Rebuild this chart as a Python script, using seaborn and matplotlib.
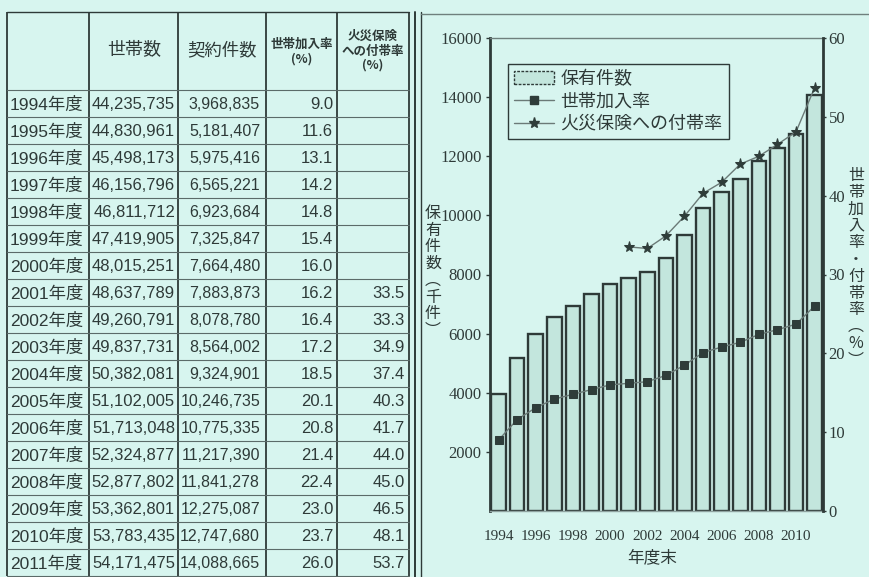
import numpy as np
import pandas as pd
import matplotlib
matplotlib.use("Agg")
import matplotlib.pyplot as plt
import seaborn as sns
from matplotlib.patches import Patch
from matplotlib.lines import Line2D

# ---------------- data ----------------
years = [1994, 1995, 1996, 1997, 1998, 1999, 2000, 2001, 2002,
         2003, 2004, 2005, 2006, 2007, 2008, 2009, 2010, 2011]
households = [44235735, 44830961, 45498173, 46156796, 46811712, 47419905,
              48015251, 48637789, 49260791, 49837731, 50382081, 51102005,
              51713048, 52324877, 52877802, 53362801, 53783435, 54171475]
contracts = [3968835, 5181407, 5975416, 6565221, 6923684, 7325847,
             7664480, 7883873, 8078780, 8564002, 9324901, 10246735,
             10775335, 11217390, 11841278, 12275087, 12747680, 14088665]
kanyu_rate = [9.0, 11.6, 13.1, 14.2, 14.8, 15.4, 16.0, 16.2, 16.4,
              17.2, 18.5, 20.1, 20.8, 21.4, 22.4, 23.0, 23.7, 26.0]
futai_rate = [np.nan] * 7 + [33.5, 33.3, 34.9, 37.4, 40.3, 41.7,
                             44.0, 45.0, 46.5, 48.1, 53.7]
table_headers = ["世帯数", "契約件数", "世帯加入率\n(%)", "火災保険\nへの付帯率\n(%)"]
left_ticks = [2000, 4000, 6000, 8000, 10000, 12000, 14000, 16000]
right_ticks = [0, 10, 20, 30, 40, 50, 60]
legend_labels = ["保有件数", "世帯加入率", "火災保険への付帯率"]
left_ylabel = "保\n有\n件\n数\n︵\n千\n件\n︶"
right_ylabel = "世\n帯\n加\n入\n率\n・\n付\n帯\n率\n︵\n%\n︶"
xlabel = "年度末"

df = pd.DataFrame({
    "year": [str(y) for y in years],
    "pos": np.arange(len(years)),
    "hoyu": [c / 1000 for c in contracts],
    "kanyu": kanyu_rate,
    "futai": futai_rate,
})

# ---------------- style ----------------
BG = "#d7f5ef"
INK = "#2e3a38"
LINE = "#6b7a77"
MARK = "#2f3d3a"
BAR_FILL = "#c3e6dd"
sns.set_style("white", {"axes.facecolor": BG, "figure.facecolor": BG})
plt.rcParams["font.family"] = ["Noto Sans CJK JP", "DejaVu Sans"]
NUMFONT = ["Liberation Sans", "Noto Sans CJK JP"]
TICKFONT = ["Liberation Serif", "DejaVu Serif"]

W, H = 869, 577
fig = plt.figure(figsize=(W / 100, H / 100), dpi=100, facecolor=BG)

# ---------------- table (pixel coordinates) ----------------
tax = fig.add_axes([0, 0, 1, 1])
tax.set_xlim(0, W)
tax.set_ylim(H, 0)
tax.axis("off")
tax.set_facecolor(BG)

col_x = [7, 89, 178, 266, 337, 409]
top_y = 12
head_bottom = 90
row_h = 27
n = len(years)
bottom_y = head_bottom + n * row_h

for x in col_x:
    tax.plot([x, x], [top_y, bottom_y], color=INK, lw=1.3, solid_capstyle="butt")
tax.plot([col_x[0], col_x[-1]], [top_y, top_y], color=INK, lw=1.0)
for i in range(n + 1):
    y = head_bottom + i * row_h
    tax.plot([col_x[0], col_x[-1]], [y, y], color="#5b6b69", lw=0.8)

# separator double line and panel top rule
tax.plot([415, 415], [top_y, H], color=INK, lw=1.4)
tax.plot([421, 421], [top_y, H], color=INK, lw=1.0)
tax.plot([421, W], [14, 14], color="#6f807d", lw=1.0)

# headers
tax.text((col_x[1] + col_x[2]) / 2 + 1, 50, table_headers[0], ha="center", va="center",
         fontsize=13, color=INK)
tax.text((col_x[2] + col_x[3]) / 2, 50, table_headers[1], ha="center", va="center",
         fontsize=12.5, color=INK)
tax.text((col_x[3] + col_x[4]) / 2, 52, table_headers[2], ha="center", va="center",
         fontsize=9, color=INK, linespacing=1.2, fontweight="bold")
tax.text((col_x[4] + col_x[5]) / 2, 51, table_headers[3], ha="center", va="center",
         fontsize=9, color=INK, linespacing=1.15, fontweight="bold")

for i, yv in enumerate(years):
    yc = head_bottom + i * row_h + row_h / 2 + 1
    tax.text(col_x[0] + 3, yc, f"{yv}年度", ha="left", va="center",
             fontsize=12.5, color=INK, family=NUMFONT)
    tax.text(col_x[2] - 3, yc, f"{households[i]:,}", ha="right", va="center",
             fontsize=12, color=INK, family=NUMFONT)
    tax.text(col_x[3] - 6, yc, f"{contracts[i]:,}", ha="right", va="center",
             fontsize=11.5, color=INK, family=NUMFONT)
    tax.text(col_x[4] - 4, yc, f"{kanyu_rate[i]:.1f}", ha="right", va="center",
             fontsize=12, color=INK, family=NUMFONT)
    if not np.isnan(futai_rate[i]):
        tax.text(col_x[5] - 4, yc, f"{futai_rate[i]:.1f}", ha="right", va="center",
                 fontsize=12, color=INK, family=NUMFONT)

# ---------------- chart ----------------
ax_l, ax_r, ax_t, ax_b = 490, 823, 38, 511
ax = fig.add_axes([ax_l / W, 1 - ax_b / H, (ax_r - ax_l) / W, (ax_b - ax_t) / H])
ax.set_facecolor(BG)
sns.barplot(data=df, x="year", y="hoyu", color=BAR_FILL, edgecolor=INK,
            linewidth=1.7, width=0.78, saturation=1, ax=ax)
ax.set_ylim(0, 16000)
ax.set_xlim(-0.46, len(years) - 0.55)
ax.set_yticks(left_ticks)
ax.set_yticklabels([str(v) for v in left_ticks], family=TICKFONT, fontsize=12, color=INK)
ax.set_xticks(df["pos"][::2])
ax.set_xticklabels(df["year"][::2], family=TICKFONT, fontsize=11, color=INK)
ax.tick_params(axis="y", length=3, width=1, pad=3, color=INK)
ax.tick_params(axis="x", length=0, pad=14)
ax.set_xlabel("")
ax.set_ylabel("")
ax.spines["left"].set_linewidth(2.0)
ax.spines["left"].set_color(INK)
ax.spines["top"].set_color("#6f807d")
ax.spines["top"].set_linewidth(1.0)
ax.spines["bottom"].set_color("#8fa3a0")
ax.spines["bottom"].set_linewidth(1.0)
ax.spines["right"].set_visible(False)

ax2 = ax.twinx()
sns.lineplot(data=df, x="pos", y="kanyu", ax=ax2, color=LINE, lw=1.0,
             marker="s", markersize=5.5, markerfacecolor=MARK,
             markeredgecolor=MARK)
sns.lineplot(data=df.dropna(), x="pos", y="futai", ax=ax2, color=LINE, lw=1.0,
             marker="*", markersize=8, markerfacecolor=MARK,
             markeredgecolor=MARK)
ax2.set_ylim(0, 60)
ax2.set_yticks(right_ticks)
ax2.set_yticklabels([str(v) for v in right_ticks], family=TICKFONT, fontsize=12, color=INK)
ax2.tick_params(axis="y", length=2, width=1, pad=2, color=INK)
ax2.set_ylabel("")
ax2.set_xlabel("")
ax2.spines["right"].set_linewidth(2.0)
ax2.spines["right"].set_color(INK)
for s in ["top", "bottom", "left"]:
    ax2.spines[s].set_visible(False)

handles = [
    Patch(facecolor=BAR_FILL, edgecolor=INK, linewidth=1.0, linestyle=(0, (2, 1))),
    Line2D([], [], color=LINE, lw=1.0, marker="s", markersize=5.5,
           markerfacecolor=MARK, markeredgecolor=MARK),
    Line2D([], [], color=LINE, lw=1.0, marker="*", markersize=8,
           markerfacecolor=MARK, markeredgecolor=MARK),
]
leg = ax2.legend(handles, legend_labels, loc="upper left",
                 bbox_to_anchor=(0.054, 0.946), fontsize=13, frameon=True,
                 fancybox=False, edgecolor=INK, facecolor=BG, framealpha=1,
                 borderpad=0.35, labelspacing=0.25, handlelength=2.2,
                 handletextpad=0.35, borderaxespad=0)
leg.get_frame().set_linewidth(1.0)
for t in leg.get_texts():
    t.set_color(INK)

# axis titles (vertical stacked Japanese text)
fig.text(433 / W, 1 - 272 / H, left_ylabel, ha="center", va="center",
         fontsize=11.5, color=INK, linespacing=0.98)
fig.text(856 / W, 1 - 268 / H, right_ylabel, ha="center", va="center",
         fontsize=11.5, color=INK, linespacing=0.98)
fig.text(652 / W, 1 - 558 / H, xlabel, ha="center", va="center",
         fontsize=12, color=INK)

fig.savefig("out.png", dpi=100, facecolor=BG)
